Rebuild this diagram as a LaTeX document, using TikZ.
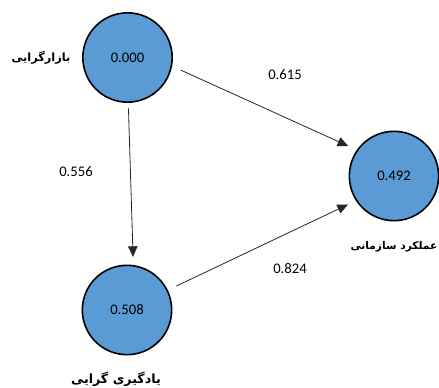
\documentclass[tikz,border=0pt]{standalone}
\usepackage{fontspec}
\setmainfont{Carlito}
\newfontfamily\farsi[Script=Arabic]{DejaVu Sans}
\TeXXeTstate=1
\usepackage{tikz}
\usetikzlibrary{arrows.meta,positioning,calc}
\definecolor{nodeblue}{RGB}{91,155,213}

\begin{document}
\begin{tikzpicture}[x=0.75pt,y=-0.75pt, line width=0.6pt,main node/.style={circle,draw=black,line width=1.2pt,fill=nodeblue,minimum size=67pt,inner sep=0pt,font=\fontsize{11}{13}\selectfont},name label/.style={font=\farsi\bfseries\fontsize{8.5}{10}\selectfont},coef/.style={font=\fontsize{11}{13}\selectfont}]
\useasboundingbox (0,0) rectangle (439,388);
\begin{scope}
\node[main node] (market) at (127.5,57.5) {0.000};
\node[main node] (perf) at (394,176) {0.492};
\node[main node] (learn) at (127,310) {0.508};

\node[name label] (marketname) at (41,58) {\beginR بازارگرایی\endR};
\node[name label,font=\farsi\bfseries\fontsize{8}{10}\selectfont] (perfname) at (394,247) {\beginR عملکرد سازمانی\endR};
\node[name label,font=\farsi\bfseries\fontsize{9.5}{11}\selectfont] (learnname) at (116,379) {\beginR یادگیری گرایی\endR};

\node[coef] (c1) at (285,75) {0.615};
\node[coef] (c2) at (76,172) {0.556};
\node[coef] (c3) at (290,269) {0.824};
\end{scope}
\begin{scope}[every edge/.style={draw=black!85,line width=0.6pt,-{Triangle[length=8pt,width=7pt]}}]
\draw (market.-11) edge[shorten <=7pt,shorten >=7pt] (perf.145);
\draw (market.-89) edge[shorten <=4pt,shorten >=6pt] (learn.82);
\draw (learn.26) edge[shorten <=7pt,shorten >=6.5pt] (perf.213);
\end{scope}
\end{tikzpicture}
\end{document}
